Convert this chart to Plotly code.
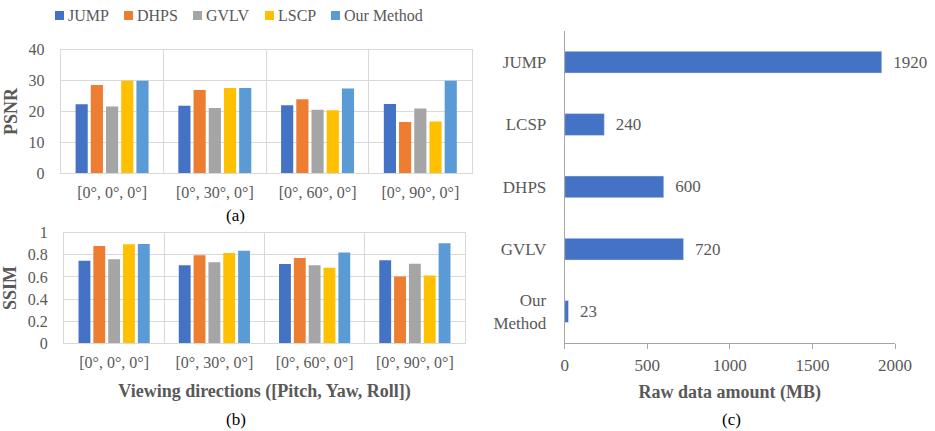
import plotly.graph_objects as go

methods = ["JUMP", "DHPS", "GVLV", "LSCP", "Our Method"]
colors = ["#4472C4", "#ED7D31", "#A5A5A5", "#FFC000", "#5B9BD5"]
directions = ["[0°, 0°, 0°]", "[0°, 30°, 0°]", "[0°, 60°, 0°]", "[0°, 90°, 0°]"]

psnr_jump = [22.3, 21.8, 22.0, 22.4]
psnr_dhps = [28.5, 26.9, 23.9, 16.6]
psnr_gvlv = [21.6, 21.1, 20.5, 20.9]
psnr_lscp = [29.9, 27.6, 20.4, 16.7]
psnr_ours = [29.9, 27.6, 27.4, 29.9]

ssim_jump = [0.747, 0.705, 0.717, 0.750]
ssim_dhps = [0.880, 0.795, 0.771, 0.605]
ssim_gvlv = [0.759, 0.732, 0.705, 0.720]
ssim_lscp = [0.895, 0.816, 0.684, 0.614]
ssim_ours = [0.898, 0.837, 0.822, 0.904]

data_methods = ["JUMP", "LCSP", "DHPS", "GVLV", "Our<br>Method"]
data_amount = [1920, 240, 600, 720, 23]

psnr = [psnr_jump, psnr_dhps, psnr_gvlv, psnr_lscp, psnr_ours]
ssim = [ssim_jump, ssim_dhps, ssim_gvlv, ssim_lscp, ssim_ours]

FONT = "Liberation Serif, Times New Roman, serif"
GRAY = "#595959"
GRID = "#D9D9D9"
W, H = 935, 431

def px(x0, x1):
    return [x0 / W, x1 / W]

def py(ytop, ybot):
    return [1 - ybot / H, 1 - ytop / H]

fig = go.Figure()
for i, m in enumerate(methods):
    fig.add_trace(go.Bar(x=directions, y=psnr[i], name=m, marker_color=colors[i],
                         xaxis="x", yaxis="y", legendgroup=m, showlegend=False,
                         marker_line_width=0))
    fig.add_trace(go.Bar(x=directions, y=ssim[i], name=m, marker_color=colors[i],
                         xaxis="x2", yaxis="y2", legendgroup=m, showlegend=False,
                         marker_line_width=0))

fig.add_trace(go.Bar(y=data_methods, x=data_amount, orientation="h",
                     marker_color="#4472C4", width=0.35, showlegend=False,
                     xaxis="x3", yaxis="y3", text=data_amount,
                     texttemplate="\u00a0\u00a0%{x}", textposition="outside",
                     cliponaxis=False,
                     textfont=dict(family=FONT, size=17, color=GRAY)))

tickfont = dict(family=FONT, size=16, color=GRAY)
titlefont = dict(family=FONT, size=18, color=GRAY)

common_cat = dict(type="category", tickson="boundaries", showgrid=True, gridcolor=GRID,
                  showline=True, mirror=True, linecolor=GRID, ticks="", tickfont=tickfont,
                  ticklabelstandoff=4)
common_val = dict(showgrid=True, gridcolor=GRID, showline=True, mirror=True,
                  linecolor=GRID, ticks="", tickfont=tickfont, zeroline=False,
                  ticklabelstandoff=12)

fig.update_layout(
    width=W, height=H, margin=dict(l=0, r=0, t=0, b=0, autoexpand=False),
    paper_bgcolor="white", plot_bgcolor="white",
    barmode="group", bargap=0.26, bargroupgap=0.2,
    font=dict(family=FONT, color=GRAY),
    showlegend=False,
    xaxis=dict(domain=px(60.7, 471.7), anchor="y", **common_cat),
    yaxis=dict(domain=py(49.5, 173.3), anchor="x", range=[0, 40], dtick=10,
               title=dict(text="<b>PSNR</b>", font=titlefont, standoff=6), **common_val),
    xaxis2=dict(domain=px(64, 465), anchor="y2",
                title=dict(text="<b>Viewing directions ([Pitch, Yaw, Roll])</b>",
                           font=titlefont, standoff=14), **common_cat),
    yaxis2=dict(domain=py(232.7, 343.3), anchor="x2", range=[0, 1], dtick=0.2,
                title=dict(text="<b>SSIM</b>", font=titlefont, standoff=6), **common_val),
    xaxis3=dict(domain=px(564.7, 895), anchor="y3", range=[0, 2000], dtick=500,
                showgrid=False, showline=True, linecolor="#A6A6A6", ticks="outside",
                ticklen=5, tickcolor="#A6A6A6", tickfont=dict(family=FONT, size=17, color=GRAY),
                zeroline=False, ticklabelstandoff=2,
                title=dict(text="<b>Raw data amount (MB)</b>", font=titlefont, standoff=11)),
    yaxis3=dict(domain=py(31, 342.7), anchor="x3", autorange="reversed", type="category",
                showgrid=False, showline=True, linecolor="#A6A6A6", ticks="",
                tickfont=dict(family=FONT, size=17, color=GRAY), ticklabelstandoff=14),
)

# manual legend (layout positions in pixels)
legend_x = [55, 124, 193, 265, 331]
for xm, m, c in zip(legend_x, methods, colors):
    fig.add_shape(type="rect", xref="paper", yref="paper",
                  x0=xm / W, x1=(xm + 9) / W, y0=1 - 20 / H, y1=1 - 11 / H,
                  fillcolor=c, line_width=0)
    fig.add_annotation(text=m, x=(xm + 11) / W, y=1 - 15 / H, xref="paper", yref="paper",
                       xanchor="left", yanchor="middle", showarrow=False,
                       font=dict(family=FONT, size=16, color=GRAY))

caps = [("(a)", 236, 215), ("(b)", 236, 419), ("(c)", 731, 419)]
for t, x, y in caps:
    fig.add_annotation(text=t, x=x / W, y=1 - y / H, xref="paper", yref="paper",
                       xanchor="center", yanchor="middle", showarrow=False,
                       font=dict(family=FONT, size=17, color="black"))

fig.write_html("out.html", config={"displayModeBar": False},
               post_script="document.body.style.margin='0px';document.body.style.overflow='hidden';")
